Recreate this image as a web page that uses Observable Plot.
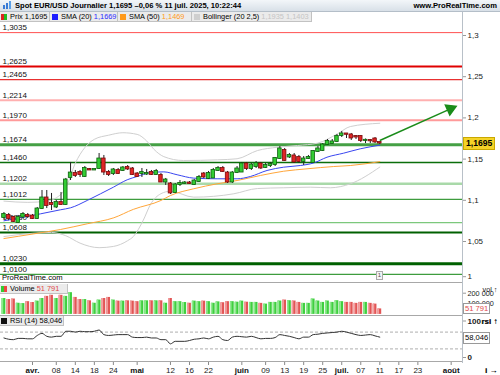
<!DOCTYPE html>
<html><head><meta charset="utf-8">
<script src="https://cdn.jsdelivr.net/npm/d3@7"></script>
<script src="https://cdn.jsdelivr.net/npm/@observablehq/plot@0.6"></script>
<style>
html,body{margin:0;padding:0;background:#fff;}
#root{position:relative;width:500px;height:375px;overflow:hidden;font-family:"Liberation Sans",Arial,sans-serif;color:#000;}
#root svg{position:absolute;left:0;overflow:visible;}
.hdr{position:absolute;left:0;top:0;width:500px;height:11px;background:linear-gradient(#f3f6f9,#d8e0e8);border-bottom:1px solid #b4bec8;font-weight:bold;font-size:7.6px;line-height:11px;white-space:nowrap;}
.leg{position:absolute;top:12px;height:9px;background:#ebebeb;border-right:1px solid #c2c2c2;border-bottom:1px solid #c2c2c2;font-size:7.4px;line-height:9px;white-space:nowrap;overflow:hidden;}
.sq{display:inline-block;width:6px;height:6px;vertical-align:-0.5px;margin:0 3px 0 2px;}
.hl{position:absolute;left:0;width:462px;height:1px;background:#a8a8a8;}
.vl{position:absolute;left:462px;width:1px;background:#b8c0c8;}
.tag{position:absolute;font-size:7.6px;line-height:10px;height:10px;padding:0 1px;white-space:nowrap;}
.sub{position:absolute;font-size:7.4px;line-height:9px;height:9px;background:#ebebeb;border:1px solid #c2c2c2;border-left:none;border-top:none;white-space:nowrap;}
</style></head><body><div id="root"></div>
<script>
// ---------- data ----------
const openP  = [1.0791,1.0816,1.0791,1.0731,1.0797,1.0816,1.0809,1.0779,1.0900,1.1028,1.0961,1.0919,1.0973,1.0949,1.1277,1.1325,1.1337,1.1289,1.1374,1.1368,1.1386,1.1501,1.1337,1.1325,1.1362,1.1362,1.1398,1.1380,1.1319,1.1325,1.1319,1.1337,1.1313,1.1301,1.1222,1.1198,1.1095,1.1192,1.1204,1.1210,1.1192,1.1228,1.1319,1.1265,1.1271,1.1362,1.1386,1.1331,1.1222,1.1337,1.1343,1.1441,1.1386,1.1410,1.1441,1.1398,1.1422,1.1434,1.1507,1.1604,1.1526,1.1538,1.1519,1.1471,1.1507,1.1459,1.1592,1.1604,1.1677,1.1689,1.1714,1.1786,1.1805,1.1793,1.1774,1.1774,1.1726,1.1726,1.1744,1.1701];
const highP  = [1.0852,1.0840,1.0803,1.0816,1.0852,1.0840,1.0828,1.0913,1.1119,1.1119,1.1083,1.0998,1.1095,1.1265,1.1459,1.1362,1.1362,1.1410,1.1386,1.1380,1.1568,1.1544,1.1362,1.1386,1.1386,1.1410,1.1422,1.1398,1.1337,1.1386,1.1374,1.1362,1.1374,1.1325,1.1265,1.1216,1.1204,1.1240,1.1228,1.1228,1.1252,1.1301,1.1337,1.1350,1.1386,1.1410,1.1410,1.1350,1.1350,1.1410,1.1459,1.1459,1.1447,1.1471,1.1459,1.1447,1.1459,1.1519,1.1653,1.1628,1.1568,1.1568,1.1544,1.1531,1.1544,1.1604,1.1653,1.1689,1.1738,1.1738,1.1799,1.1835,1.1811,1.1811,1.1786,1.1786,1.1744,1.1738,1.1762,1.1708];
const lowP   = [1.0767,1.0755,1.0731,1.0718,1.0779,1.0779,1.0767,1.0767,1.0888,1.0900,1.0876,1.0900,1.0937,1.0937,1.1240,1.1277,1.1277,1.1277,1.1362,1.1362,1.1374,1.1301,1.1289,1.1301,1.1313,1.1350,1.1362,1.1301,1.1277,1.1277,1.1301,1.1301,1.1301,1.1216,1.1180,1.1070,1.1083,1.1168,1.1192,1.1192,1.1180,1.1216,1.1265,1.1252,1.1265,1.1350,1.1337,1.1204,1.1204,1.1325,1.1337,1.1362,1.1362,1.1386,1.1374,1.1386,1.1398,1.1410,1.1495,1.1471,1.1507,1.1447,1.1447,1.1422,1.1495,1.1447,1.1580,1.1592,1.1665,1.1677,1.1701,1.1762,1.1750,1.1726,1.1738,1.1701,1.1689,1.1689,1.1689,1.1677];
const closeP = [1.0828,1.0779,1.0743,1.0791,1.0828,1.0803,1.0779,1.0894,1.1028,1.0937,1.0949,1.0973,1.0949,1.1246,1.1331,1.1301,1.1313,1.1386,1.1368,1.1374,1.1501,1.1343,1.1313,1.1368,1.1325,1.1392,1.1380,1.1313,1.1289,1.1337,1.1325,1.1313,1.1350,1.1222,1.1246,1.1089,1.1186,1.1204,1.1210,1.1204,1.1234,1.1277,1.1283,1.1325,1.1362,1.1386,1.1350,1.1222,1.1331,1.1380,1.1441,1.1386,1.1428,1.1447,1.1392,1.1422,1.1434,1.1507,1.1623,1.1483,1.1544,1.1465,1.1471,1.1501,1.1519,1.1592,1.1623,1.1671,1.1714,1.1708,1.1774,1.1805,1.1801,1.1756,1.1768,1.1726,1.1728,1.1722,1.1708,1.1695];
const volume = [150000,140000,145000,105000,102000,120000,112000,125000,150000,170000,180000,150000,180000,170000,205000,160000,140000,140000,128000,105000,135000,150000,160000,135000,125000,125000,128000,125000,120000,128000,128000,128000,128000,128000,105000,150000,120000,120000,112000,105000,125000,120000,125000,120000,105000,118000,110000,120000,120000,115000,125000,115000,113000,113000,104000,97000,113000,113000,126000,135000,129000,126000,113000,104000,104000,145000,126000,113000,126000,113000,129000,120000,113000,113000,104000,113000,113000,104000,97000,51791];
const rsi = [56,53,52,55,55,54,54,62,67,60,58,60,60,72,72,70,72,71,71,72,75,64,62,63,64,64,64,58,57,57,58,56,56,52,52,42,48,48,48,50,53,54,56,54,58,60,52,50,58,60,59,58,60,57,54,55,55,57,64,62,60,57,54,58,58,64,65,67,68,69,70,72,70,67,64,62,63,64,61,58.046];
const sma20Idx = [0,3.5,7.7,11.9,14,17.5,20.3,23,25.9,28,30.8,33.6,36.4,39.9,44.8,49,51.8,55.3,58.8,62.3,65.1,67.9,71.4,74.9,79];
const sma20    = [1.0751,1.0788,1.0836,1.0885,1.0909,1.0998,1.1079,1.1159,1.1249,1.1289,1.1336,1.1345,1.1310,1.1269,1.1261,1.1261,1.1289,1.1362,1.1402,1.1422,1.1453,1.1523,1.1572,1.1625,1.1669];
const sma50Idx = [0,6.3,11.9,17.5,23.1,27.2,33,35,39.9,44.8,49,53.9,58.8,63.7,69.3,72.8,79];
const sma50    = [1.0536,1.0593,1.0646,1.0715,1.0788,1.0890,1.0998,1.1058,1.1140,1.1200,1.1240,1.1301,1.1353,1.1382,1.1410,1.1422,1.1469];
const bollUpIdx = [0,5,9,11,13,15,17,19,22,25,28,30,31.5,33.6,37.7,44.9,49,53.3,57.5,61.7,65.9,70.1,72.8,79];
const bollUp    = [1.0990,1.0975,1.0990,1.1030,1.1150,1.1450,1.1640,1.1740,1.1790,1.1820,1.1800,1.1720,1.1620,1.1530,1.1483,1.1491,1.1504,1.1604,1.1644,1.1665,1.1693,1.1807,1.1895,1.1935];
const bollLoIdx = [0,6,10,13,16,20,23,26,27.2,29.3,30.8,33,35,39.9,48.3,53.3,58.8,64.4,68.6,72.8,79];
const bollLo    = [1.0560,1.0600,1.0610,1.0570,1.0480,1.0425,1.0440,1.0510,1.0560,1.0760,1.0950,1.1080,1.1110,1.1038,1.1079,1.1143,1.1152,1.1159,1.1152,1.1200,1.1403];
const levelValues = [1.3035,1.2625,1.2465,1.2214,1.1970,1.1674,1.1460,1.1202,1.1012,1.0730,1.0608,1.0230,1.0100];
const levelLabels = ["1,3035","1,2625","1,2465","1,2214","1,1970","1,1674","1,1460","1,1202","1,1012","1,0730","1,0608","1,0230","1,0100"];
const priceTicks = [1.05,1.1,1.15,1.2,1.25,1.3];
const priceTickLabels = ["1,05","1,1","1,15","1,2","1,25","1,3"];
const priceBottomTick = [1.0];
const priceBottomLabel = ["1"];
const volTicks = [100000,200000];
const volTickLabels = ["100 000","200 000"];
const rsiTop = [100];
const rsiBottom = [0];
const rsiGuides = [30,70];
const xTickIdx = [6,11,15,19,23,28,35,39,43,50,55,59,63,67,71,75,79,83,87,94];
const xTickLabels = ["avr.","08","14","18","24","mai","12","16","22","juin","09","13","19","25","juil.","07","11","17","23","août"];
const monthTicks = ["avr.","mai","juin","juil.","août"];
const arrowFrom = [79, 1.1726];
const arrowTo = [93.85, 1.2110];
const lastPrice = 1.1695;
const lastVolume = 51791;
const lastRsi = 58.046;

// ---------- styles (not data) ----------
const levelColor = ["#ff5050","#e00000","#e83030","#ffb0b0","#ff9a9a","#45a045","#0b6e0b","#a9d9a9","#3e9c3e","#7cc87c","#006000","#006000","#3e9c3e"];
const levelWidth = [1,2,1.3,2,2,3,1.5,2.5,1.2,1.2,2,3,1.2];
const UP_FILL="#33cc33", UP_STROKE="#0d5f0d", DN_FILL="#e02424", DN_STROKE="#7a0a0a";

const candles = openP.map((o,i)=>({i, open:o, high:highP[i], low:lowP[i], close:closeP[i], vol:volume[i], rsi:rsi[i], up: closeP[i]>=o}));
const pts = (idx, vals) => idx.map((x,k)=>({i:x, v:vals[k]}));
const levels = levelValues.map((v,k)=>({v, label:levelLabels[k], color:levelColor[k], w:levelWidth[k]}));
const root = document.getElementById("root");
const X = {domain:[0,79], range:[3.45,379.3], axis:null};
const baseStyle = {fontFamily:"Liberation Sans, Arial, sans-serif", fontSize:"8px", background:"transparent", overflow:"visible"};
const axisOpts = {anchor:"right", tickSize:3, tickPadding:2, fontSize:8, stroke:"#999", fill:"#222"};

// ---------- main price panel ----------
const main = Plot.plot({
  width:500, height:283, marginLeft:0, marginRight:38, marginTop:0, marginBottom:0,
  x: X,
  y: {domain:[1.0,1.3], range:[282.2,35], axis:null},
  color:{type:"identity"},
  style: baseStyle,
  marks: [
    Plot.ruleY(levels, {y:"v", stroke:"color", strokeWidth:"w"}),
    Plot.text(levels, {y:"v", text:"label", frameAnchor:"left", textAnchor:"start", dx:2, dy:-5, fill:"#111", fontSize:8}),
    Plot.line(pts(bollUpIdx,bollUp), {x:"i", y:"v", stroke:"#cfcfcf", strokeWidth:1, curve:"monotone-x"}),
    Plot.line(pts(bollLoIdx,bollLo), {x:"i", y:"v", stroke:"#cfcfcf", strokeWidth:1, curve:"monotone-x"}),
    Plot.line(pts(sma50Idx,sma50), {x:"i", y:"v", stroke:"#ffa63a", strokeWidth:1, curve:"monotone-x"}),
    Plot.line(pts(sma20Idx,sma20), {x:"i", y:"v", stroke:"#3a46f0", strokeWidth:1, curve:"monotone-x"}),
    Plot.ruleX(candles, {x:"i", y1:"low", y2:"high", stroke:"#222", strokeWidth:1}),
    Plot.rect(candles, {x1:d=>d.i-0.37, x2:d=>d.i+0.37, y1:"open", y2:"close", insetTop:-0.5, insetBottom:-0.5,
      fill:d=>d.up?UP_FILL:DN_FILL, stroke:d=>d.up?UP_STROKE:DN_STROKE, strokeWidth:0.8}),
    Plot.link([{a:arrowFrom,b:arrowTo}], {x1:d=>d.a[0], y1:d=>d.a[1], x2:d=>d.b[0], y2:d=>d.b[1], stroke:"#1a8c1a", strokeWidth:1.5}),
    Plot.dot([arrowTo], {x:d=>d[0], y:d=>d[1], symbol:"triangle", r:4, rotate:66, fill:"#1a8c1a", stroke:"#1a8c1a"}),
    Plot.axisY(priceTicks, {...axisOpts, tickFormat:(d,k)=>priceTickLabels[k]}),
    Plot.axisY(priceBottomTick, {...axisOpts, tickFormat:(d,k)=>priceBottomLabel[k], dy:-6})
  ]
});
main.style.top = "0px";
root.appendChild(main);

// ---------- volume panel ----------
const vol = Plot.plot({
  width:500, height:32, marginLeft:0, marginRight:38, marginTop:0, marginBottom:0,
  x: X,
  y: {domain:[0,100000], range:[30.9,20.3], axis:null},
  color:{type:"identity"},
  style: baseStyle,
  marks: [
    Plot.rect(candles, {x1:d=>d.i-0.4, x2:d=>d.i+0.4, y1:0, y2:"vol", fill:d=>d.up?"#3fcf3f":"#e25555"}),
    Plot.rect(candles, {x1:d=>d.i-0.4, x2:d=>d.i-0.05, y1:0, y2:"vol", fill:d=>d.up?"#8fe98f":"#f2a0a0"}),
    Plot.axisY(volTicks, {...axisOpts, fontSize:7.3, tickFormat:(d,k)=>volTickLabels[k]})
  ]
});
vol.style.top = "283px";
root.appendChild(vol);

// ---------- RSI panel ----------
const rsiPlot = Plot.plot({
  width:500, height:60, marginLeft:0, marginRight:38, marginTop:0, marginBottom:13,
  x: X,
  y: {domain:[0,100], range:[46,4], axis:null},
  style: baseStyle,
  marks: [
    Plot.ruleY(rsiGuides, {stroke:"#9a9a9a", strokeDasharray:"3,2", strokeWidth:0.8}),
    Plot.ruleY(rsiBottom, {stroke:"#a8a8a8"}),
    Plot.line(candles, {x:"i", y:"rsi", stroke:"#333", strokeWidth:1, curve:"monotone-x"}),
    Plot.axisY(rsiTop, {...axisOpts, tickFormat:d=>String(d), fontWeight:"bold", dy:1.5}),
    Plot.axisY(rsiBottom, {...axisOpts, tickFormat:d=>String(d), fontWeight:"bold", dy:-4}),
    Plot.axisX(xTickIdx.filter((d,k)=>!monthTicks.includes(xTickLabels[k])), {anchor:"bottom", tickFormat:d=>xTickLabels[xTickIdx.indexOf(d)], tickSize:3, tickPadding:2, fontSize:8, stroke:"#888", fill:"#222"}),
    Plot.axisX(xTickIdx.filter((d,k)=>monthTicks.includes(xTickLabels[k])), {anchor:"bottom", tickFormat:d=>xTickLabels[xTickIdx.indexOf(d)], tickSize:3, tickPadding:2, fontSize:8, stroke:"#888", fill:"#111", fontWeight:"bold"})
  ]
});
rsiPlot.style.top = "315px";
root.appendChild(rsiPlot);

// ---------- HTML overlays: header, legends, tags ----------
function el(cls, css, html){const d=document.createElement("div"); d.className=cls; Object.assign(d.style, css); d.innerHTML=html||""; root.appendChild(d); return d;}
el("hdr", {}, '<svg width="12" height="10" style="position:absolute;left:2px;top:0px"><rect x="1" y="5" width="2" height="4" fill="#3a7bd5"/><rect x="4" y="3" width="2" height="6" fill="#3a7bd5"/><rect x="7" y="1" width="2" height="8" fill="#5aa0e8"/></svg>' +
  '<span style="position:absolute;left:15px">Spot EUR/USD Journalier 1,1695 –0,06 % 11 juil. 2025, 10:22:44</span>' +
  '<span style="position:absolute;right:3px">www.ProRealTime.com</span>');
el("leg", {left:"0px", width:"49px"}, '<span class="sq" style="background:linear-gradient(90deg,#d22 50%,#2b2 50%);margin-left:1px"></span>Prix 1,1695');
el("leg", {left:"50px", width:"67px"}, '<span class="sq" style="background:#1c1cff"></span>SMA (20) <span style="color:#2a2aff">1,1669</span>');
el("leg", {left:"118px", width:"73px"}, '<span class="sq" style="background:#ff9a1a"></span>SMA (50) <span style="color:#ff9a1a">1,1469</span>');
el("leg", {left:"192px", width:"119px"}, '<span class="sq" style="background:#cfcfcf"></span>Bollinger (20 2,5) <span style="color:#c4c4c4">1,1935 1,1403</span>');
el("vl", {top:"12px", height:"351px"});
el("hl", {top:"282px"});
el("hl", {top:"315px"});
el("tag", {left:"1px", top:"273px", fontSize:"7.6px", lineHeight:"9px"}, "ProRealTime.com");
el("tag", {left:"376px", top:"271px", width:"5px", height:"7px", lineHeight:"7px", fontSize:"6px", border:"1px solid #aaa", background:"#f4f4f4", color:"#555", textAlign:"center", padding:"0"}, "1");

const yMain = main.scale("y");
const py = yMain.apply(lastPrice);
el("tag", {left:"463px", top:(py-6)+"px", height:"11px", lineHeight:"11px", background:"#f5d327", fontWeight:"bold", fontSize:"8.6px", border:"1px solid #c9a800", padding:"0 2px"}, "1,1695");

const yVol = vol.scale("y");
const vy = 283 + yVol.apply(lastVolume);
el("tag", {left:"463px", top:(vy-5)+"px", height:"9px", lineHeight:"9px", background:"#fff", color:"#e04848", border:"1px solid #999", padding:"0 1px"}, "51 791");
el("sub", {left:"0px", top:"284px", width:"67px"}, '<span class="sq" style="background:linear-gradient(90deg,#3c3 50%,#e44 50%);margin-left:1px"></span>Volume <span style="color:#e04848">51 791</span>');

const yR = rsiPlot.scale("y");
const ry = 315 + yR.apply(lastRsi);
el("tag", {left:"463px", top:(ry-5)+"px", background:"#fff", border:"1px solid #999", padding:"0 1px"}, "58,046");
el("sub", {left:"0px", top:"316px", width:"63px"}, '<span class="sq" style="background:#111;margin-left:1px"></span>RSI (14) 58,046');
</script>
</body></html>
